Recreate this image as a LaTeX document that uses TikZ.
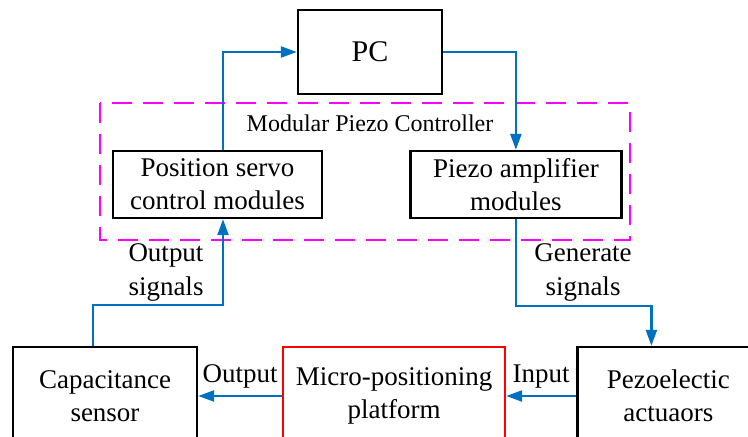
\documentclass[tikz,border=0pt]{standalone}
\usepackage{fontspec}
\setmainfont{Liberation Serif}
\definecolor{sigblue}{RGB}{0,112,192}
\definecolor{ctrlpink}{RGB}{255,0,255}
\usetikzlibrary{arrows.meta,positioning}

\begin{document}
\begin{tikzpicture}[x=1pt,y=1pt,>={Triangle[length=16pt,width=11pt]},
	sig/.style={->,draw=sigblue,line width=2.4pt},
	blockbox/.style={draw=black,line width=2.4pt,align=center,inner sep=0pt,
		font=\fontsize{27}{33}\selectfont},
	lbl/.style={align=center,font=\fontsize{27}{34}\selectfont}]
	\useasboundingbox (0,0) rectangle (748,-437);
	\clip (0,0) rectangle (748,-437);

	% top row
	\node[blockbox,minimum width=144pt,minimum height=84pt,
		font=\fontsize{30}{36}\selectfont] (pc) at (370,-52) {PC};

	% modules inside the controller
	\node[blockbox,minimum width=209pt,minimum height=67pt] (servo) at (217.5,-184.5) {Position servo\\control modules};
	\node[blockbox,minimum width=211pt,minimum height=67pt] (amp) [right=86pt of servo] {Piezo amplifier\\modules};
	\draw[ctrlpink,line width=2.4pt,dash pattern=on 20pt off 11pt] (100,-103) rectangle (630,-240);
	\node[font=\fontsize{24}{28}\selectfont] (ctrl) at (370,-123) {Modular Piezo Controller};

	% bottom row
	\node[blockbox,minimum width=184pt,minimum height=98pt] (cap) at (105,-396) {Capacitance\\sensor};
	\node[blockbox,draw=red,line width=2pt,minimum width=222pt,minimum height=98pt] (plat) [right=84pt of cap] {Micro-positioning\\platform};
	\node[blockbox,minimum width=182pt,minimum height=98pt] (act) [right=70pt of plat] {Pezoelectic\\actuaors};

	% signal paths
	\draw[sig] ([xshift=5.5pt]servo.north) |- (pc.west);
	\draw[sig] (pc.east) -| (amp.north);
	\draw[sig] (amp.south) -- ++(0,-87) -| ([xshift=-17pt]act.north);
	\draw[sig] ([xshift=-12pt]cap.north) -- ++(0,41) -| ([xshift=5.5pt]servo.south);
	\draw[sig] (act.west) -- node[lbl,above=3pt] (inlbl) {Input} (plat.east);
	\draw[sig] (plat.west) -- node[lbl,above=3pt] (outlbl) {Output} (cap.east);

	\node[lbl] (outsig) at (166,-272) {Output\\signals};
	\node[lbl] (gensig) at (583,-272) {Generate\\signals};
\end{tikzpicture}
\end{document}
